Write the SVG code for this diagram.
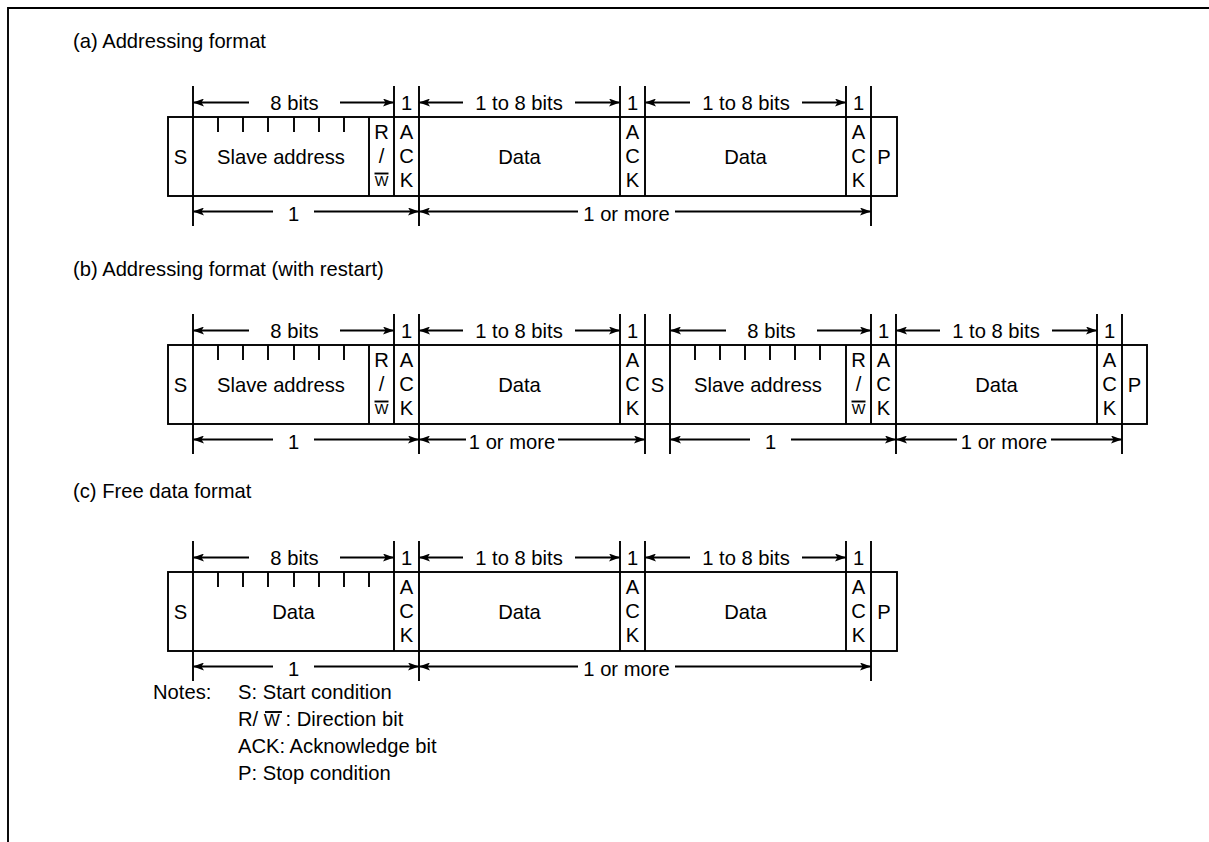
<svg xmlns="http://www.w3.org/2000/svg" width="1209" height="842" viewBox="0 0 1209 842">
<style>
text{font-family:"Liberation Sans",Arial,sans-serif;font-size:20.2px;fill:#000}
.c{text-anchor:middle}
.w{font-size:14.5px}
.ln{stroke:#000;stroke-width:1.9;fill:none}
.box{stroke:#000;stroke-width:1.9;fill:#fff}
.ar{stroke:#000;stroke-width:1.8;fill:none;marker-end:url(#ah)}
</style>
<defs>
<marker id="ah" viewBox="0 0 11 8" refX="11" refY="4" markerWidth="11" markerHeight="8" orient="auto" markerUnits="userSpaceOnUse"><path d="M0,0 L11,4 L0,8 L2.5,4 z" fill="#000"/></marker>
</defs>
<rect width="1209" height="842" fill="#fff"/>
<path class="ln" d="M8,842 V8 H1209" stroke-width="2"/>

<!-- (a) -->
<text x="73" y="48">(a) Addressing format</text>
<g id="frameA">
<rect class="box" x="168" y="117" width="729" height="79"/>
<path class="ln" d="M193,117V196M369,117V196M394,117V196M419,117V196M620,117V196M645,117V196M846,117V196M871,117V196"/>
<path class="ln" d="M218,117V132M243,117V132M268,117V132M294,117V132M319,117V132M344,117V132"/>
<text class="c" x="180.5" y="163.5">S</text>
<text class="c" x="281" y="163.5">Slave address</text>
<text class="c" x="381.5" y="138.5">R</text><text class="c" x="381.5" y="163">/</text><text class="c w" x="381.5" y="186">W</text>
<line class="ln" x1="374.5" y1="173.5" x2="388.5" y2="173.5" stroke-width="1.2"/>
<text class="c" x="406.5" y="138.5">A</text><text class="c" x="406.5" y="163">C</text><text class="c" x="406.5" y="187">K</text>
<text class="c" x="519.5" y="163.5">Data</text>
<text class="c" x="632.5" y="138.5">A</text><text class="c" x="632.5" y="163">C</text><text class="c" x="632.5" y="187">K</text>
<text class="c" x="745.5" y="163.5">Data</text>
<text class="c" x="858.5" y="138.5">A</text><text class="c" x="858.5" y="163">C</text><text class="c" x="858.5" y="187">K</text>
<text class="c" x="884" y="163.5">P</text>
</g>
<g id="dimsA">
<path class="ln" d="M193,86V117M394,86V117M419,86V117M620,86V117M645,86V117M846,86V117M871,86V117M193,196V226M419,196V226M871,196V226"/>
<line class="ar" x1="249" y1="102.5" x2="193" y2="102.5"/><line class="ar" x1="340" y1="102.5" x2="394" y2="102.5"/>
<text class="c" x="294.5" y="109.5">8 bits</text>
<text class="c" x="406.5" y="109.5">1</text>
<line class="ar" x1="463" y1="102.5" x2="419" y2="102.5"/><line class="ar" x1="575" y1="102.5" x2="620" y2="102.5"/>
<text class="c" x="519" y="109.5">1 to 8 bits</text>
<text class="c" x="632.5" y="109.5">1</text>
<line class="ar" x1="690" y1="102.5" x2="645" y2="102.5"/><line class="ar" x1="802" y1="102.5" x2="846" y2="102.5"/>
<text class="c" x="746" y="109.5">1 to 8 bits</text>
<text class="c" x="858.5" y="109.5">1</text>
<line class="ar" x1="273" y1="211.5" x2="193" y2="211.5"/><line class="ar" x1="314" y1="211.5" x2="419" y2="211.5"/>
<text class="c" x="293.5" y="221">1</text>
<line class="ar" x1="578" y1="211.5" x2="419" y2="211.5"/><line class="ar" x1="675" y1="211.5" x2="871" y2="211.5"/>
<text class="c" x="626.5" y="221">1 or more</text>
</g>

<!-- (b) -->
<text x="73" y="276">(b) Addressing format (with restart)</text>
<g id="frameB">
<rect class="box" x="168" y="345" width="979" height="79"/>
<path class="ln" d="M193,345V424M369,345V424M394,345V424M419,345V424M620,345V424M645,345V424M670,345V424M846,345V424M871,345V424M896,345V424M1097,345V424M1122,345V424"/>
<path class="ln" d="M218,345V360M243,345V360M268,345V360M294,345V360M319,345V360M344,345V360M695,345V360M720,345V360M745,345V360M770,345V360M795,345V360M820,345V360"/>
<text class="c" x="180.5" y="391.5">S</text>
<text class="c" x="281" y="391.5">Slave address</text>
<text class="c" x="381.5" y="366.5">R</text><text class="c" x="381.5" y="391">/</text><text class="c w" x="381.5" y="414">W</text>
<line class="ln" x1="374.5" y1="401.5" x2="388.5" y2="401.5" stroke-width="1.2"/>
<text class="c" x="406.5" y="366.5">A</text><text class="c" x="406.5" y="391">C</text><text class="c" x="406.5" y="415">K</text>
<text class="c" x="519.5" y="391.5">Data</text>
<text class="c" x="632.5" y="366.5">A</text><text class="c" x="632.5" y="391">C</text><text class="c" x="632.5" y="415">K</text>
<text class="c" x="657.5" y="391.5">S</text>
<text class="c" x="758" y="391.5">Slave address</text>
<text class="c" x="858.5" y="366.5">R</text><text class="c" x="858.5" y="391">/</text><text class="c w" x="858.5" y="414">W</text>
<line class="ln" x1="851.5" y1="401.5" x2="865.5" y2="401.5" stroke-width="1.2"/>
<text class="c" x="883.5" y="366.5">A</text><text class="c" x="883.5" y="391">C</text><text class="c" x="883.5" y="415">K</text>
<text class="c" x="996.5" y="391.5">Data</text>
<text class="c" x="1109.5" y="366.5">A</text><text class="c" x="1109.5" y="391">C</text><text class="c" x="1109.5" y="415">K</text>
<text class="c" x="1134.5" y="391.5">P</text>
</g>
<g id="dimsB">
<path class="ln" d="M193,314V345M394,314V345M419,314V345M620,314V345M645,314V345M670,314V345M871,314V345M896,314V345M1097,314V345M1122,314V345M193,424V454M419,424V454M645,424V454M670,424V454M896,424V454M1122,424V454"/>
<line class="ar" x1="249" y1="330.5" x2="193" y2="330.5"/><line class="ar" x1="340" y1="330.5" x2="394" y2="330.5"/>
<text class="c" x="294.5" y="337.5">8 bits</text>
<text class="c" x="406.5" y="337.5">1</text>
<line class="ar" x1="463" y1="330.5" x2="419" y2="330.5"/><line class="ar" x1="575" y1="330.5" x2="620" y2="330.5"/>
<text class="c" x="519" y="337.5">1 to 8 bits</text>
<text class="c" x="632.5" y="337.5">1</text>
<line class="ar" x1="726" y1="330.5" x2="670" y2="330.5"/><line class="ar" x1="817" y1="330.5" x2="871" y2="330.5"/>
<text class="c" x="771.5" y="337.5">8 bits</text>
<text class="c" x="883.5" y="337.5">1</text>
<line class="ar" x1="940" y1="330.5" x2="896" y2="330.5"/><line class="ar" x1="1052" y1="330.5" x2="1097" y2="330.5"/>
<text class="c" x="996" y="337.5">1 to 8 bits</text>
<text class="c" x="1109.5" y="337.5">1</text>
<line class="ar" x1="273" y1="439.5" x2="193" y2="439.5"/><line class="ar" x1="314" y1="439.5" x2="419" y2="439.5"/>
<text class="c" x="293.5" y="449">1</text>
<line class="ar" x1="466" y1="439.5" x2="419" y2="439.5"/><line class="ar" x1="558" y1="439.5" x2="645" y2="439.5"/>
<text class="c" x="512" y="449">1 or more</text>
<line class="ar" x1="750" y1="439.5" x2="670" y2="439.5"/><line class="ar" x1="791" y1="439.5" x2="896" y2="439.5"/>
<text class="c" x="770.5" y="449">1</text>
<line class="ar" x1="957" y1="439.5" x2="896" y2="439.5"/><line class="ar" x1="1051" y1="439.5" x2="1122" y2="439.5"/>
<text class="c" x="1004" y="449">1 or more</text>
</g>

<!-- (c) -->
<text x="73" y="498">(c) Free data format</text>
<g id="frameC">
<rect class="box" x="168" y="572" width="729" height="79"/>
<path class="ln" d="M193,572V651M394,572V651M419,572V651M620,572V651M645,572V651M846,572V651M871,572V651"/>
<path class="ln" d="M218,572V587M243,572V587M268,572V587M294,572V587M319,572V587M344,572V587M369,572V587"/>
<text class="c" x="180.5" y="618.5">S</text>
<text class="c" x="293.5" y="618.5">Data</text>
<text class="c" x="406.5" y="593.5">A</text><text class="c" x="406.5" y="618">C</text><text class="c" x="406.5" y="642">K</text>
<text class="c" x="519.5" y="618.5">Data</text>
<text class="c" x="632.5" y="593.5">A</text><text class="c" x="632.5" y="618">C</text><text class="c" x="632.5" y="642">K</text>
<text class="c" x="745.5" y="618.5">Data</text>
<text class="c" x="858.5" y="593.5">A</text><text class="c" x="858.5" y="618">C</text><text class="c" x="858.5" y="642">K</text>
<text class="c" x="884" y="618.5">P</text>
</g>
<g id="dimsC">
<path class="ln" d="M193,541V572M394,541V572M419,541V572M620,541V572M645,541V572M846,541V572M871,541V572M193,651V681M419,651V681M871,651V681"/>
<line class="ar" x1="249" y1="557.5" x2="193" y2="557.5"/><line class="ar" x1="340" y1="557.5" x2="394" y2="557.5"/>
<text class="c" x="294.5" y="564.5">8 bits</text>
<text class="c" x="406.5" y="564.5">1</text>
<line class="ar" x1="463" y1="557.5" x2="419" y2="557.5"/><line class="ar" x1="575" y1="557.5" x2="620" y2="557.5"/>
<text class="c" x="519" y="564.5">1 to 8 bits</text>
<text class="c" x="632.5" y="564.5">1</text>
<line class="ar" x1="690" y1="557.5" x2="645" y2="557.5"/><line class="ar" x1="802" y1="557.5" x2="846" y2="557.5"/>
<text class="c" x="746" y="564.5">1 to 8 bits</text>
<text class="c" x="858.5" y="564.5">1</text>
<line class="ar" x1="273" y1="666.5" x2="193" y2="666.5"/><line class="ar" x1="314" y1="666.5" x2="419" y2="666.5"/>
<text class="c" x="293.5" y="676">1</text>
<line class="ar" x1="578" y1="666.5" x2="419" y2="666.5"/><line class="ar" x1="675" y1="666.5" x2="871" y2="666.5"/>
<text class="c" x="626.5" y="676">1 or more</text>
</g>

<!-- notes -->
<g id="notes">
<text x="153" y="699">Notes:</text>
<text x="238" y="699">S: Start condition</text>
<text x="238" y="726">R/ <tspan font-size="17">W</tspan> : Direction bit</text>
<line class="ln" x1="265" y1="712" x2="282" y2="712" stroke-width="1.2"/>
<text x="238" y="753">ACK: Acknowledge bit</text>
<text x="238" y="780">P: Stop condition</text>
</g>
</svg>
